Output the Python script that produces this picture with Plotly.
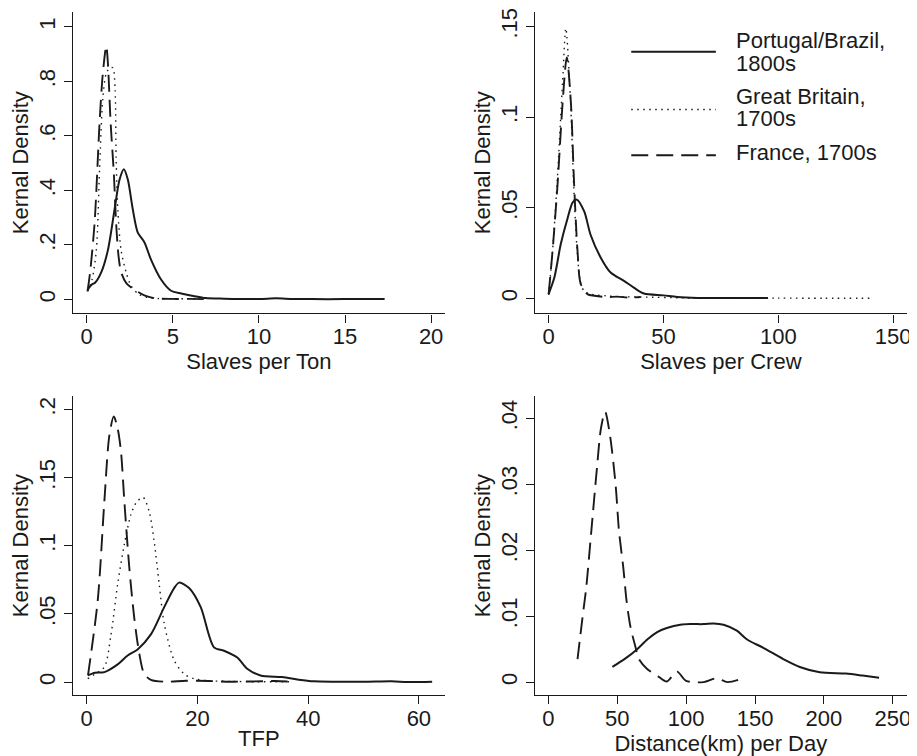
import plotly.graph_objects as go

# ---------------- data ----------------
series_names = ["Portugal/Brazil, 1800s", "Great Britain, 1700s", "France, 1700s"]

# Panel 1: Slaves per Ton
pb_ton_x = [0.05, 0.3, 0.5, 0.85, 1.23, 1.62, 1.91, 2.16, 2.39, 2.68, 2.97, 3.35, 3.73, 4.31, 4.9, 5.5, 6.2, 6.9, 8, 10, 11, 12, 14, 16, 17.3]
pb_ton_y = [0.035, 0.055, 0.062, 0.1, 0.18, 0.33, 0.44, 0.478, 0.44, 0.33, 0.245, 0.21, 0.147, 0.074, 0.032, 0.022, 0.013, 0.005, 0.003, 0.002, 0.004, 0.002, 0.001, 0.002, 0.002]
gb_ton_x = [0.05, 0.3, 0.56, 0.75, 0.94, 1.14, 1.35, 1.52, 1.65, 1.71, 1.81, 2.0, 2.29, 2.58, 3.0, 3.5, 4.2, 5, 6, 6.9]
gb_ton_y = [0.03, 0.07, 0.18, 0.48, 0.74, 0.83, 0.85, 0.85, 0.77, 0.52, 0.33, 0.18, 0.1, 0.05, 0.02, 0.008, 0.003, 0.002, 0.003, 0.001]
fr_ton_x = [0.05, 0.2, 0.46, 0.75, 0.94, 1.14, 1.23, 1.39, 1.58, 1.71, 1.85, 2.0, 2.3, 2.68, 3.35, 4, 5, 6, 7]
fr_ton_y = [0.03, 0.1, 0.28, 0.65, 0.83, 0.93, 0.87, 0.65, 0.46, 0.28, 0.16, 0.1, 0.06, 0.04, 0.015, 0.004, 0.002, 0.002, 0.001]

# Panel 2: Slaves per Crew
pb_crew_x = [0, 2.5, 5.3, 8.2, 10.5, 12.3, 15.5, 18.3, 22.7, 27, 32.8, 37.1, 41.5, 50, 56, 65, 80, 95.5]
pb_crew_y = [0.0024, 0.0115, 0.03, 0.044, 0.053, 0.0545, 0.048, 0.035, 0.0225, 0.0143, 0.0097, 0.006, 0.0027, 0.0017, 0.0008, 0.0003, 0.0003, 0.0002]
gb_crew_x = [0, 1.7, 3.9, 6.1, 7.5, 9.5, 11, 12.5, 14, 15.5, 17, 20, 25, 30, 40, 60, 80, 100, 120, 141]
gb_crew_y = [0.002, 0.026, 0.068, 0.12, 0.149, 0.11, 0.06, 0.025, 0.008, 0.004, 0.003, 0.002, 0.0015, 0.001, 0.0008, 0.0003, 0.0002, 0.0002, 0.0001, 0.0001]
fr_crew_x = [0, 1.7, 3.9, 6.1, 7.9, 9.7, 11.1, 12.6, 14, 16.9, 20, 25, 30, 35, 40]
fr_crew_y = [0.0024, 0.026, 0.063, 0.108, 0.133, 0.108, 0.063, 0.026, 0.008, 0.0024, 0.0015, 0.0008, 0.001, 0.0005, 0.0008]

# Panel 3: TFP
pb_tfp_x = [0.24, 1.5, 3.2, 5.6, 7.4, 9.2, 11.6, 14, 15.8, 16.7, 18.5, 20.6, 23, 24.8, 27.2, 29, 31.4, 35.3, 38.3, 41, 45, 50, 55, 58, 62.4]
pb_tfp_y = [0.0049, 0.0068, 0.0073, 0.013, 0.0195, 0.024, 0.035, 0.055, 0.069, 0.073, 0.069, 0.055, 0.0255, 0.023, 0.018, 0.0098, 0.0049, 0.0037, 0.0018, 0.0006, 0.0003, 0.0002, 0.0006, 0.0001, 0.0003]
gb_tfp_x = [0.2, 1.5, 3.2, 4.4, 5.6, 6.8, 8.0, 9.0, 10.2, 11.3, 12.2, 13.1, 14, 15.8, 17.6, 19.4, 22, 26, 30, 34, 37]
gb_tfp_y = [0.0025, 0.006, 0.011, 0.035, 0.072, 0.101, 0.123, 0.132, 0.1355, 0.125, 0.103, 0.072, 0.043, 0.016, 0.006, 0.0025, 0.001, 0.0005, 0.0003, 0.0003, 0.0002]
fr_tfp_x = [0.24, 2.0, 3.2, 4.1, 4.9, 5.6, 6.2, 6.8, 7.7, 8.6, 9.5, 10.4, 11.6, 14, 18, 22, 26, 30, 34, 37]
fr_tfp_y = [0.0049, 0.06, 0.133, 0.181, 0.195, 0.186, 0.169, 0.133, 0.084, 0.047, 0.021, 0.006, 0.0017, 0.0003, 0.001, 0.0008, 0.0003, 0.0005, 0.0008, 0.0003]

# Panel 4: Distance(km) per Day
pb_dist_x = [46.5, 56, 64.5, 72, 79, 86, 95.8, 103, 112.7, 119.9, 127.2, 136.8, 144, 156, 170.5, 182.5, 197, 216, 228, 240]
pb_dist_y = [0.0023, 0.0036, 0.005, 0.0065, 0.0076, 0.0082, 0.0087, 0.0088, 0.0088, 0.0089, 0.0087, 0.0078, 0.0065, 0.0052, 0.0035, 0.0023, 0.0015, 0.0013, 0.001, 0.00066]
fr_dist_x = [21.2, 24.8, 27.5, 31, 35.3, 38.2, 41.2, 44.7, 48.8, 51.3, 54.4, 56.8, 59.7, 63.3, 65.7, 71.7, 80.2, 86, 93.4, 100, 112.7, 122.3, 130, 141.6]
fr_dist_y = [0.0035, 0.0098, 0.0143, 0.0224, 0.0325, 0.0385, 0.041, 0.0375, 0.03, 0.0229, 0.0174, 0.0123, 0.0083, 0.0053, 0.0035, 0.002, 0.0008, 0.0001, 0.0016, 0.0002, 0.0, 0.0006, 0.0, 0.0006]

# Axis titles / ticks
x_titles = ["Slaves per Ton", "Slaves per Crew", "TFP", "Distance(km) per Day"]
y_title = "Kernal Density"
x_ticks = [[0, 5, 10, 15, 20], [0, 50, 100, 150], [0, 20, 40, 60], [0, 50, 100, 150, 200, 250]]
y_ticks = [[0, 0.2, 0.4, 0.6, 0.8, 1.0], [0, 0.05, 0.1, 0.15], [0, 0.05, 0.1, 0.15, 0.2], [0, 0.01, 0.02, 0.03, 0.04]]
y_ticklabels = [["0", ".2", ".4", ".6", ".8", "1"], ["0", ".05", ".1", ".15"],
                ["0", ".05", ".1", ".15", ".2"], ["0", ".01", ".02", ".03", ".04"]]

# ---------------- styling ----------------
OFF = 8                      # page body margin of the html page
W, H = 917 - OFF, 756 - OFF
FONT = "Liberation Sans, Arial, Helvetica, sans-serif"
INK = "#1a1a1a"
styles = {
    "pb": dict(color=INK, width=2.0, dash="solid"),
    "gb": dict(color=INK, width=1.4, dash="1.5px,4.5px"),
    "fr": dict(color=INK, width=1.9, dash="17px,8px"),
}

# screen-pixel boxes of the four plot areas (left, right, top, bottom)
boxes = [(73, 447, 8, 311), (537, 911, 8, 311), (73, 447, 394, 695), (537, 911, 394, 695)]
x_ranges = [[-0.81, 20.81], [-6.07, 156.05], [-2.52, 64.73], [-9.9, 260.3]]
y_ranges = [[-0.0511, 1.0547], [-0.00823, 0.158], [-0.0097, 0.21], [-0.002, 0.0434]]


def px(v):
    return (v - OFF) / W


def py(v):
    return 1 - (v - OFF) / H


panels = [
    [("pb", pb_ton_x, pb_ton_y), ("gb", gb_ton_x, gb_ton_y), ("fr", fr_ton_x, fr_ton_y)],
    [("pb", pb_crew_x, pb_crew_y), ("gb", gb_crew_x, gb_crew_y), ("fr", fr_crew_x, fr_crew_y)],
    [("pb", pb_tfp_x, pb_tfp_y), ("gb", gb_tfp_x, gb_tfp_y), ("fr", fr_tfp_x, fr_tfp_y)],
    [("pb", pb_dist_x, pb_dist_y), ("fr", fr_dist_x, fr_dist_y)],
]
name_of = {"pb": series_names[0], "gb": series_names[1], "fr": series_names[2]}

fig = go.Figure()
layout = dict(
    width=W, height=H, margin=dict(l=0, r=0, t=0, b=0),
    paper_bgcolor="white", plot_bgcolor="white",
    font=dict(family=FONT, size=22, color=INK),
    showlegend=False,
)

for i, (series, box, xr, yr) in enumerate(zip(panels, boxes, x_ranges, y_ranges)):
    k = "" if i == 0 else str(i + 1)
    for key, xs, ys in series:
        fig.add_trace(go.Scatter(
            x=xs, y=ys, mode="lines", name=name_of[key],
            line=dict(shape="spline", smoothing=0.8, **styles[key]),
            xaxis="x" + k, yaxis="y" + k, hoverinfo="skip",
        ))
    l, r, t, b = box
    common = dict(showgrid=False, zeroline=False, showline=True, linecolor=INK, linewidth=1.3,
                  ticks="outside", ticklen=8, tickwidth=1.3, tickcolor=INK,
                  ticklabeloverflow="allow",
                  tickfont=dict(family=FONT, size=22, color=INK))
    layout["xaxis" + k] = dict(
        domain=[px(l), px(r)], range=xr, anchor="y" + k,
        tickvals=x_ticks[i], ticktext=[str(v) for v in x_ticks[i]], ticklabelstandoff=-5,
        title=dict(text=x_titles[i], font=dict(family=FONT, size=22, color=INK), standoff=0),
        **common)
    layout["yaxis" + k] = dict(
        domain=[py(b), py(t)], range=yr, anchor="x" + k,
        tickvals=y_ticks[i], ticktext=y_ticklabels[i], tickangle=-90,
        title=dict(text=y_title, font=dict(family=FONT, size=22, color=INK), standoff=0),
        **common)

# ---------------- manual legend (top-right panel) ----------------
leg_x0, leg_x1, leg_tx = 634, 719, 737
leg_rows = [("pb", 48, [("Portugal/Brazil,", 36.5), ("1800s", 59.5)]),
            ("gb", 106, [("Great Britain,", 92.5), ("1700s", 115.5)]),
            ("fr", 152, [("France, 1700s", 149.5)])]
shapes, annotations = [], []
for key, ly, texts in leg_rows:
    st = styles[key]
    shapes.append(dict(type="line", xref="paper", yref="paper",
                       x0=px(leg_x0), x1=px(leg_x1), y0=py(ly), y1=py(ly),
                       line=dict(color=st["color"], width=st["width"], dash=st["dash"])))
    for txt, ty in texts:
        annotations.append(dict(text=txt, xref="paper", yref="paper", x=px(leg_tx), y=py(ty),
                                xanchor="left", yanchor="middle", showarrow=False,
                                font=dict(family=FONT, size=22, color=INK)))
layout["shapes"] = shapes
layout["annotations"] = annotations

fig.update_layout(**layout)
fig.write_html("out.html")
